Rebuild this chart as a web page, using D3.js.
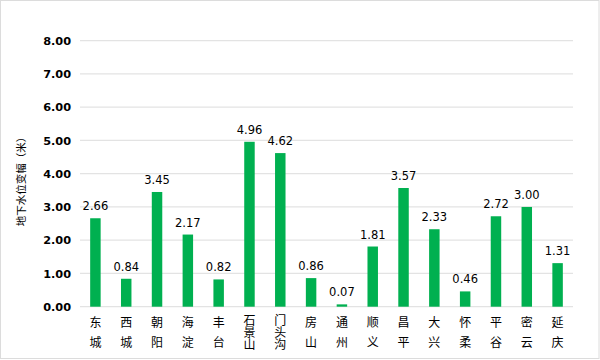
<!DOCTYPE html>
<html><head><meta charset="utf-8">
<script src="https://cdn.jsdelivr.net/npm/d3@7/dist/d3.min.js"></script>
<style>body{margin:0;background:#fff}svg{display:block}</style>
</head><body>
<svg id="c" width="600" height="360"></svg>
<script>
const districts = ["东城","西城","朝阳","海淀","丰台","石景山","门头沟","房山","通州","顺义","昌平","大兴","怀柔","平谷","密云","延庆"];
const values = [2.66,0.84,3.45,2.17,0.82,4.96,4.62,0.86,0.07,1.81,3.57,2.33,0.46,2.72,3.00,1.31];
const yTicks = [0,1,2,3,4,5,6,7,8];
const yTitle = "地下水位变幅（米）";

const svg = d3.select("#c");
svg.append("rect").attr("x",0.5).attr("y",0.5).attr("width",598.5).attr("height",358)
  .attr("fill","#fff").attr("stroke","#dcdcdc").attr("stroke-width",1);

const x = d3.scaleBand().domain(districts).range([80,573]).paddingInner(0.66).paddingOuter(0.33);
const y = d3.scaleLinear().domain([0,8]).range([306.7,40.7]);

const grid = svg.append("g");
grid.selectAll("line").data(yTicks).join("line")
  .attr("x1",80).attr("x2",573).attr("y1",d=>y(d)).attr("y2",d=>y(d))
  .attr("stroke","#e3e3e3").attr("stroke-width",1.3);

const yAxis = d3.axisLeft(y).tickValues(yTicks).tickFormat(d3.format(".2f")).tickSize(0).tickPadding(9);
const ya = svg.append("g").attr("transform","translate(80,0)").call(yAxis);
ya.select(".domain").remove();
ya.selectAll("text").attr("font-family","DejaVu Sans").attr("font-weight","bold")
  .attr("font-size","11.3px").attr("fill","#000");

svg.append("text").attr("transform","translate(25,179) rotate(-90)")
  .attr("text-anchor","middle").attr("font-family","Noto Sans CJK SC").attr("font-size","10.5px")
  .attr("fill","#000").text(yTitle);

svg.append("g").selectAll("rect").data(values).join("rect")
  .attr("x",(d,i)=>x(districts[i])).attr("width",x.bandwidth())
  .attr("y",d=>y(d)).attr("height",d=>y(0)-y(d)).attr("fill","#00b050");

svg.append("g").selectAll("text").data(values).join("text")
  .attr("x",(d,i)=>x(districts[i])+x.bandwidth()/2).attr("y",d=>y(d)-8)
  .attr("text-anchor","middle").attr("font-family","DejaVu Sans").attr("font-size","11.5px")
  .attr("fill","#000").text(d=>d3.format(".2f")(d));

const xl = svg.append("g");
districts.forEach((name)=>{
  const cx = x(name)+x.bandwidth()/2;
  const n = Array.from(name).length;
  xl.append("text").attr("x",cx).attr("y", n===2 ? 316 : 314)
    .attr("text-anchor","start")
    .style("writing-mode","vertical-rl")
    .style("letter-spacing", n===2 ? "8px" : "0px")
    .attr("font-family","Noto Sans CJK SC").attr("font-size","12px").attr("fill","#000").text(name);
});
</script>
</body></html>
